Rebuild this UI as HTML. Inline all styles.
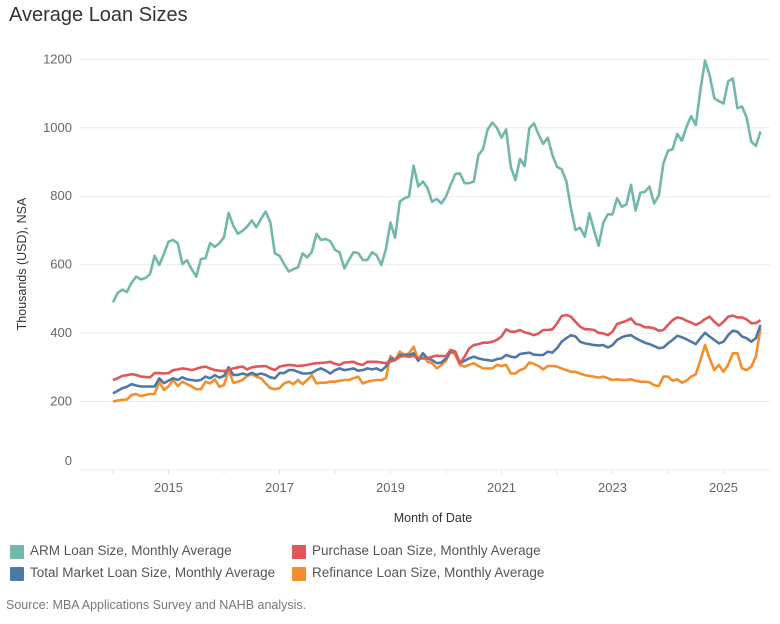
<!DOCTYPE html>
<html><head><meta charset="utf-8"><style>
body{margin:0;background:#fff;font-family:"Liberation Sans",sans-serif;}
#wrap{position:relative;width:780px;height:624px;overflow:hidden;}
.t{position:absolute;white-space:nowrap;}
.sq{position:absolute;width:14px;height:14px;border-radius:1px;}
</style></head><body>
<div id="wrap">
<div class="t" style="left:9px;top:4px;font-size:20px;color:#333;">Average Loan Sizes</div>
<svg id="chart" width="780" height="624" style="position:absolute;left:0;top:0;"></svg>
<div class="sq" style="left:10px;top:545px;background:#72b7ad;"></div>
<div class="t" style="left:30px;top:543px;font-size:13.5px;color:#555;">ARM Loan Size, Monthly Average</div>
<div class="sq" style="left:10px;top:567px;background:#4e79a7;"></div>
<div class="t" style="left:30px;top:565px;font-size:13.5px;color:#555;">Total Market Loan Size, Monthly Average</div>
<div class="sq" style="left:292px;top:545px;background:#e15759;"></div>
<div class="t" style="left:312px;top:543px;font-size:13.5px;color:#555;">Purchase Loan Size, Monthly Average</div>
<div class="sq" style="left:292px;top:567px;background:#f28e2b;"></div>
<div class="t" style="left:312px;top:565px;font-size:13.5px;color:#555;">Refinance Loan Size, Monthly Average</div>
<div class="t" style="left:6px;top:598px;font-size:12.5px;color:#777;">Source: MBA Applications Survey and NAHB analysis.</div>
</div>
<script>
const yTicks=[0,200,400,600,800,1000,1200];
const xTickYears=[2015,2017,2019,2021,2023,2025];
const startYear=2014;
const arm=[490,517,527,520,547,565,557,561,572,626,599,631,667,672,662,602,613,587,565,616,619,663,652,663,680,751,714,690,699,711,729,709,734,755,724,633,626,602,580,587,592,633,621,638,690,672,675,668,643,636,589,614,636,634,614,614,636,628,599,645,723,679,784,794,799,889,829,843,824,784,792,779,799,833,865,867,838,838,843,920,937,995,1015,1000,971,995,886,847,909,888,998,1013,981,953,971,920,886,879,844,765,701,708,682,750,701,655,723,747,747,794,769,776,833,758,810,813,828,779,802,896,933,937,982,962,1003,1034,1008,1110,1196,1154,1086,1078,1071,1135,1144,1057,1062,1030,959,947,989];
const purchase=[263,268,275,277,280,278,273,272,271,283,283,282,283,292,294,297,295,292,296,300,302,297,292,290,289,293,297,300,302,294,300,302,303,304,297,292,302,305,307,306,304,305,307,310,312,313,314,316,310,307,314,315,316,310,307,316,316,316,314,312,317,321,331,333,331,333,326,326,326,331,334,333,333,351,346,312,331,355,365,368,372,372,375,380,390,411,404,404,409,402,399,394,399,409,409,411,428,450,453,448,433,419,411,411,409,401,399,394,404,427,431,436,443,427,424,417,417,414,407,409,424,438,446,443,436,431,424,431,441,448,433,422,433,448,451,446,446,440,429,429,438];
const total=[224,231,239,243,251,247,244,244,244,244,268,254,261,268,263,271,265,263,261,263,273,268,277,270,275,300,278,278,282,278,284,278,282,278,271,268,283,283,292,292,287,282,282,284,292,297,290,282,292,297,292,294,297,290,292,297,294,297,290,302,326,321,336,336,336,341,319,341,326,321,312,314,326,346,346,312,319,326,331,326,323,321,319,324,326,336,331,329,339,341,343,337,336,336,346,343,356,375,385,394,390,375,370,368,365,364,365,358,365,380,388,392,394,385,378,372,368,362,356,358,370,380,392,388,382,375,368,385,401,390,380,370,375,394,407,404,390,385,375,385,424];
const refinance=[200,203,205,206,219,222,216,219,222,222,258,234,244,263,245,258,251,244,236,236,258,253,265,243,248,292,255,258,263,275,280,273,268,253,239,236,239,253,258,251,263,251,263,277,253,255,255,258,258,261,263,263,268,273,253,258,261,263,263,268,333,321,346,336,341,360,323,341,316,312,297,307,319,346,336,307,302,307,312,304,297,297,297,307,304,307,282,282,292,297,314,310,304,294,304,304,302,297,292,287,287,282,277,275,273,270,273,268,263,265,263,263,265,261,258,258,256,248,245,273,273,261,265,255,261,273,280,321,365,326,292,307,287,307,341,341,297,292,302,331,414];
const NS='http://www.w3.org/2000/svg';
const svg=document.getElementById('chart');
const L=79,R=770,T=59.3,B=470;
const yS=v=>B-(v/1200)*(B-T);
const xS=m=>113+m*(55.5/12);
function mk(tag,attrs){const e=document.createElementNS(NS,tag);for(const k in attrs)e.setAttribute(k,attrs[k]);svg.appendChild(e);return e;}
yTicks.forEach(v=>{
  const g=mk('line',{x1:L,x2:R,y1:yS(v),y2:yS(v),stroke:'#ececec','stroke-width':1});
  
  
  const ly=v===0?yS(v)-5:yS(v)+4;
  const t=mk('text',{x:72,y:ly,'text-anchor':'end','font-size':13,fill:'#666','font-family':'Liberation Sans, sans-serif'});
  t.textContent=v;
  
  
});
for(let y=startYear;y<=2025;y++){
  const x=xS((y-startYear)*12);
  const tk=mk('line',{x1:x,x2:x,y1:B,y2:B+4,stroke:'#e4e4e4','stroke-width':1});
  
  
}
xTickYears.forEach(y=>{
  const t=mk('text',{x:xS((y-startYear)*12),y:492,'text-anchor':'middle','font-size':13,fill:'#666','font-family':'Liberation Sans, sans-serif'});
  t.textContent=y;
  
  
});
const yt=mk('text',{x:0,y:0,transform:'translate(26,264) rotate(-90)','text-anchor':'middle','font-size':12.5,fill:'#333','font-family':'Liberation Sans, sans-serif'});
yt.textContent='Thousands (USD), NSA';


const xt=mk('text',{x:433,y:522,'text-anchor':'middle','font-size':12.5,fill:'#333','font-family':'Liberation Sans, sans-serif'});
xt.textContent='Month of Date';


function line(data,color,name){
  const d=data.map((v,i)=>(i?'L':'M')+xS(i).toFixed(1)+','+yS(v).toFixed(1)).join('');
  const p=mk('path',{d:d,fill:'none',stroke:color,'stroke-width':2.6,'stroke-linejoin':'round'});
  
  
}
line(arm,'#72b7ad','arm-series-line');
line(refinance,'#f28e2b','refinance-series-line');
line(total,'#4e79a7','total-series-line');
line(purchase,'#e15759','purchase-series-line');
</script>
</body></html>
